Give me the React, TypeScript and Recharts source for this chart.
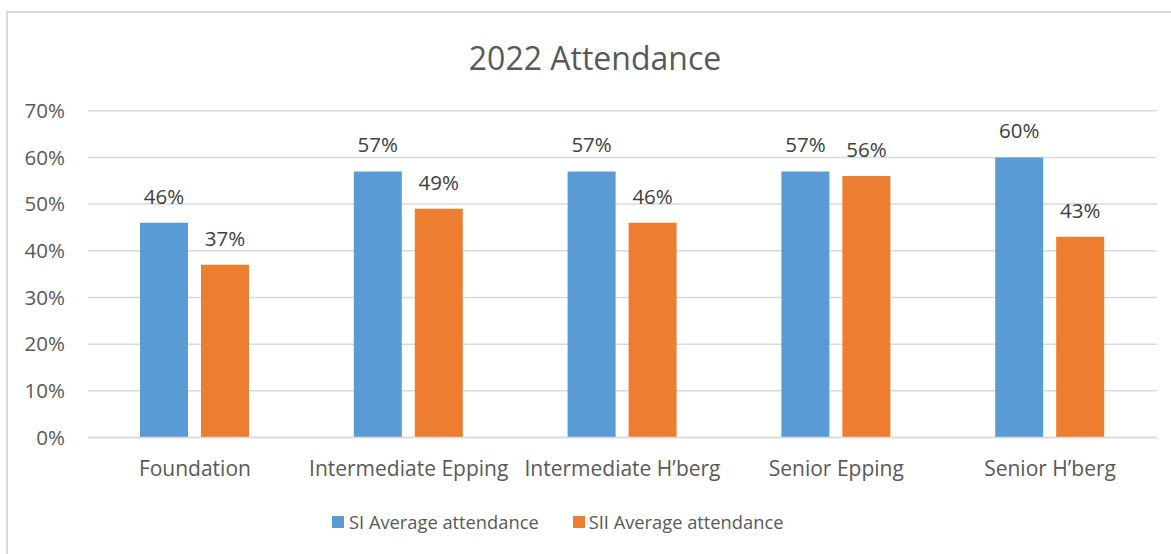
import { Bar, BarChart, CartesianGrid, LabelList, XAxis, YAxis } from 'recharts'

const categories = [
  'Foundation',
  'Intermediate Epping',
  'Intermediate H\u2019berg',
  'Senior Epping',
  'Senior H\u2019berg',
]
const siAverage = [46, 57, 57, 57, 60]
const siiAverage = [37, 49, 46, 56, 43]
const yTicks = [0, 10, 20, 30, 40, 50, 60, 70]

const data = categories.map((name, i) => ({
  name,
  si: siAverage[i],
  sii: siiAverage[i],
}))

const FONT = '"Open Sans", "Noto Sans", sans-serif'
const BLUE = '#5B9BD5'
const ORANGE = '#ED7D31'
const pct = (v: number | string) => `${v}%`

export default function App() {
  return (
    <div
      style={{
        position: 'absolute',
        left: 0,
        top: 0,
        width: 1171,
        height: 554,
        background: '#fff',
        overflow: 'hidden',
        fontFamily: FONT,
      }}
    >
      {/* chart frame, only top and left edges visible in the crop */}
      <div
        style={{
          position: 'absolute',
          left: 6,
          top: 11,
          right: -10,
          bottom: -10,
          border: '2px solid #d9d9d9',
        }}
      />
      <div
        style={{
          position: 'absolute',
          left: 0,
          width: 1190,
          top: 42,
          textAlign: 'center',
          fontSize: 32,
          lineHeight: '32px',
          color: '#595959',
        }}
      >
        2022 Attendance
      </div>

      <BarChart
        width={1171}
        height={554}
        data={data}
        barSize={48}
        barGap={13}
        margin={{ top: 110.7, right: 14, left: 0, bottom: 76.5 }}
        style={{ position: 'absolute', left: 0, top: 0 }}
      >
        <CartesianGrid vertical={false} stroke="#d9d9d9" strokeWidth={1.5} />
        <XAxis
          dataKey="name"
          height={40}
          tickLine={false}
          tickSize={0}
          tickMargin={24}
          axisLine={{ stroke: '#d9d9d9', strokeWidth: 1.5 }}
          interval={0}
          tick={{ fontSize: 21, fill: '#595959', fontFamily: FONT }}
        />
        <YAxis
          width={88}
          domain={[0, 70]}
          ticks={yTicks}
          tickFormatter={pct}
          axisLine={false}
          tickLine={false}
          tickSize={0}
          tickMargin={23}
          tick={{ fontSize: 20.5, fill: '#595959', fontFamily: FONT }}
        />
        <Bar dataKey="si" fill={BLUE} isAnimationActive={false}>
          <LabelList
            dataKey="si"
            position="top"
            offset={19}
            formatter={pct}
            style={{ fontSize: 20.5, fill: '#404040', fontFamily: FONT }}
          />
        </Bar>
        <Bar dataKey="sii" fill={ORANGE} isAnimationActive={false}>
          <LabelList
            dataKey="sii"
            position="top"
            offset={19}
            formatter={pct}
            style={{ fontSize: 20.5, fill: '#404040', fontFamily: FONT }}
          />
        </Bar>
      </BarChart>

      {/* legend */}
      <div
        style={{
          position: 'absolute',
          left: 332,
          top: 507,
          display: 'flex',
          alignItems: 'center',
          fontSize: 18.3,
          lineHeight: '30px',
          color: '#595959',
        }}
      >
        <span style={{ width: 12, height: 12, background: BLUE, marginRight: 5 }} />
        <span style={{ marginRight: 34 }}>SI Average attendance</span>
        <span style={{ width: 12, height: 12, background: ORANGE, marginRight: 4 }} />
        <span>SII Average attendance</span>
      </div>
    </div>
  )
}
